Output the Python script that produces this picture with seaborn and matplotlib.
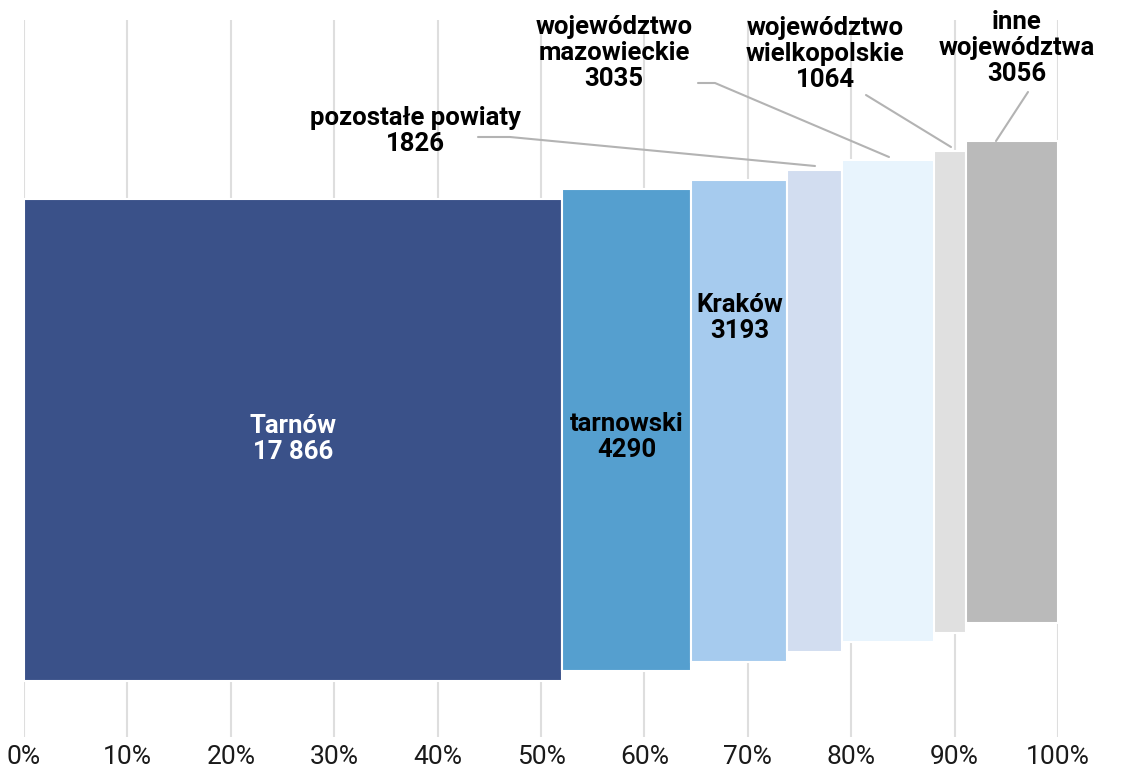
import numpy as np
import pandas as pd
import matplotlib.pyplot as plt
import seaborn as sns

names = ["Tarnów", "tarnowski", "Kraków", "pozostałe powiaty",
         "województwo\nmazowieckie", "województwo\nwielkopolskie", "inne\nwojewództwa"]
values = [17866, 4290, 3193, 1826, 3035, 1064, 3056]
colors = ["#3a5189", "#559fcf", "#a6cbee", "#d2ddf0", "#e8f4fd", "#e0e0e0", "#bababa"]

sns.set_theme(style="whitegrid")
plt.rcParams['font.family'] = ['Roboto', 'DejaVu Sans']

df = pd.DataFrame({"name": names, "value": values, "color": colors})
df["share"] = df["value"] / df["value"].sum() * 100
df["left"] = df["share"].cumsum() - df["share"]
df["label"] = [f"{v:,}".replace(",", " ") if v >= 10000 else str(v) for v in values]

fig = plt.figure(figsize=(11.34, 7.72), dpi=100)
# y axis works in pixel-like units from the top of the figure
ax = fig.add_axes([24 / 1134, (772 - 737) / 772, (1058 - 24) / 1134, (737 - 20) / 772])
ax.set_xlim(0, 100)
ax.set_ylim(737, 20)

step = 9.7
bar_h = 482
tops = [199 - i * step for i in range(len(df))]
ax.bar(df["left"], bar_h, width=df["share"], bottom=tops, align="edge",
       color=df["color"], edgecolor="white", linewidth=1.5, zorder=2)

ax.set_xticks(np.arange(0, 101, 10))
ax.set_xticklabels([f"{t}%" for t in range(0, 101, 10)])
ax.set_yticks([])
ax.grid(axis="x", color="#dedede", linewidth=1.5)
ax.grid(axis="y", visible=False)
ax.tick_params(axis="x", length=0, pad=6, labelsize=19, labelcolor="#1a1a1a")
for s in ax.spines.values():
    s.set_visible(False)

font = dict(fontsize=18.5, fontweight="bold", ha="center", va="center", linespacing=1.08)
# labels inside bars
inside = {0: 439, 1: 437, 2: 318}
for i, y in inside.items():
    r = df.iloc[i]
    ax.text(r["left"] + r["share"] / 2, y, f"{r['name']}\n{r['label']}",
            color="white" if i == 0 else "black", zorder=3, **font)

# labels outside with leader lines: (text x px, text y px, line points in px)
outside = {
    3: (415, 131, [(478, 137), (510, 137), (815, 166)]),
    4: (614, 53, [(698, 83), (715, 83), (889, 157)]),
    5: (825, 54, [(866, 95), (951, 147)]),
    6: (1017, 48, [(1028, 92), (996, 141)]),
}

def px2x(px):
    return (px - 24) / (1058 - 24) * 100

for i, (tx, ty, pts) in outside.items():
    r = df.iloc[i]
    ax.text(px2x(tx), ty, f"{r['name']}\n{r['label']}", color="black",
            zorder=3, clip_on=False, **font)
    ax.plot([px2x(p[0]) for p in pts], [p[1] for p in pts],
            color="#b3b3b3", linewidth=1.5, zorder=3, clip_on=False)

fig.savefig("out.png", dpi=100, facecolor="white")
